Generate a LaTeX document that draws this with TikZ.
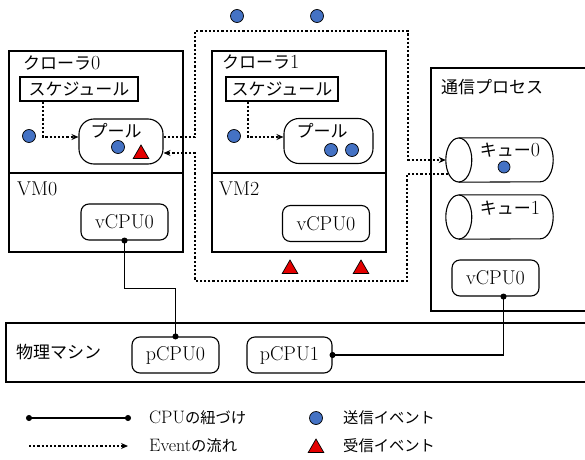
\documentclass[tikz,border=0pt]{standalone}
\usepackage{fontspec}
\usepackage{tikz}
\usetikzlibrary{arrows.meta,shapes.geometric}

\newfontfamily\jp[Scale=0.85]{Noto Sans CJK JP}
\definecolor{sendblue}{RGB}{68,114,196}
\definecolor{recvred}{RGB}{228,0,0}

% queue drawn as a lying cylinder round a named node
\newcommand\queuebody[1]{%
  \draw[frame] ([xshift=13pt]#1.north west) -- ([xshift=-13pt]#1.north east)
    arc[start angle=90, end angle=-90, x radius=13pt, y radius=22pt]
    -- ([xshift=13pt]#1.south west);
  \draw[frame] ([xshift=13pt]#1.west) ellipse [x radius=13pt, y radius=22pt];}

\begin{document}
\begin{tikzpicture}[x=1pt,y=1pt,
    every node/.style={font=\fontsize{20}{24}\selectfont, inner sep=0pt},
    frame/.style={draw, line width=1.1pt},
    rbox/.style={draw, line width=1.1pt, rounded corners=8pt},
    vcpu/.style={rbox, minimum width=87pt, minimum height=36pt},
    pool/.style={rbox, rounded corners=15pt, minimum height=45pt},
    sched/.style={frame, minimum height=24pt},
    queue/.style={minimum width=107pt, minimum height=44pt},
    sendev/.style={circle, draw, line width=0.7pt, fill=sendblue, minimum size=13pt},
    recvev/.style={regular polygon, regular polygon sides=3, draw, line width=0.7pt,
                   fill=recvred, minimum size=18pt},
    flow/.style={line width=1.1pt, dash pattern=on 2.2pt off 2pt,
                 -{Stealth[length=7pt,width=6pt]}},
    cpulink/.style={line width=1.1pt, {Circle[length=6pt]}-{Circle[length=6pt]},
                    shorten <=-3pt, shorten >=-3pt},
  ]
  \useasboundingbox (0,0) rectangle (585,459);

  % crawler 0 / VM0
  \draw[frame] (9,286) rectangle (183,408);
  \draw[frame] (9,207) rectangle (183,286);
  \node[anchor=west] (cr0) at (23,396) {{\jp クローラ}0};
  \node[anchor=west] (vm0) at (17,270) {VM0};
  \node[sched, minimum width=118pt] (s0) at (79,370) {\jp スケジュール};
  \node[pool, minimum width=84pt] (p0) at (121,317.5) {};
  \node (p0lbl) at (116,328) {\jp プール};
  \node[sendev] (e0) at (29,323) {};
  \node[sendev] (e1) at (118,312) {};
  \node[recvev] (r0) at (141,305) {};
  \node[vcpu] (vc0) at (124.5,237) {vCPU0};

  % crawler 1 / VM2
  \draw[frame] (212,286) rectangle (386,408);
  \draw[frame] (212,207) rectangle (386,286);
  \node[anchor=west] (cr1) at (222,397) {{\jp クローラ}1};
  \node[anchor=west] (vm2) at (219,270) {VM2};
  \node[sched, minimum width=112pt] (s1) at (282,370) {\jp スケジュール};
  \node[pool, minimum width=89pt] (p1) at (328.5,318) {};
  \node (p1lbl) at (322,328) {\jp プール};
  \node[sendev] (e2) at (234,323) {};
  \node[sendev] (e3) at (331,309) {};
  \node[sendev] (e4) at (352,309) {};
  \node[vcpu] (vc1) at (326,235.5) {vCPU0};

  % communication process
  \draw[frame] (590,391) -- (431,391) -- (431,148) -- (590,148);
  \node[anchor=west] (com) at (441,372) {\jp 通信プロセス};
  \node[queue] (q0) at (499.5,299) {};
  \queuebody{q0}
  \node (q0lbl) at (510,309) {{\jp キュー}0};
  \node[sendev, minimum size=12pt] (e5) at (504,292) {};
  \node[queue] (q1) at (499.5,242) {};
  \queuebody{q1}
  \node (q1lbl) at (510,251) {{\jp キュー}1};
  \node[vcpu] (vc2) at (495.5,181) {vCPU0};

  % physical machine
  \draw[frame] (590,136) -- (6,136) -- (6,77) -- (590,77);
  \node[anchor=west] (pm) at (16,107) {\jp 物理マシン};
  \node[vcpu] (pc0) at (175.5,104) {pCPU0};
  \node[vcpu, minimum width=85pt] (pc1) at (289.5,104) {pCPU1};

  % event flow
  \draw[flow] (s0.south -| 43,0) |- ([yshift=4.5pt]p0.west);
  \draw[flow] (s1.south -| 248,0) |- ([yshift=4pt]p1.west);
  \draw[flow] ([yshift=4.5pt]p0.east) -| (195,428) -- (408,428) |- (q0.west);
  \draw[flow] ([shift={(2pt,-14pt)}]q0.west) -| (407,178) -| (195,306)
    -- ([yshift=-11.5pt]p0.east);
  \node[sendev] (e6) at (237,443) {};
  \node[sendev] (e7) at (317,443) {};
  \node[recvev] (r1) at (290,190) {};
  \node[recvev] (r2) at (361,190) {};

  % cpu binding
  \draw[cpulink] (vc0.south) -- ++(0,-48) -| (pc0.north);
  \draw[cpulink] ([xshift=8pt]vc2.south) |- (pc1.east);

  % legend
  \coordinate (lgA) at (29,41);
  \coordinate (lgB) at (128,41);
  \coordinate (lgC) at (29,13);
  \coordinate (lgD) at (128,13);
  \draw[cpulink] (lgA) -- (lgB);
  \draw[flow] (lgC) -- (lgD);
  \node[anchor=west, font=\fontsize{18}{22}\selectfont] (lg1) at (149,41) {CPU{\jp の紐づけ}};
  \node[anchor=west, font=\fontsize{18}{22}\selectfont] (lg2) at (149,13) {Event{\jp の流れ}};
  \node[sendev] (lge) at (316,41) {};
  \node[recvev] (lgr) at (316,11) {};
  \node[anchor=west, font=\fontsize{18}{22}\selectfont] (lg3) at (343,41) {\jp 送信イベント};
  \node[anchor=west, font=\fontsize{18}{22}\selectfont] (lg4) at (343,13) {\jp 受信イベント};
\end{tikzpicture}
\end{document}
